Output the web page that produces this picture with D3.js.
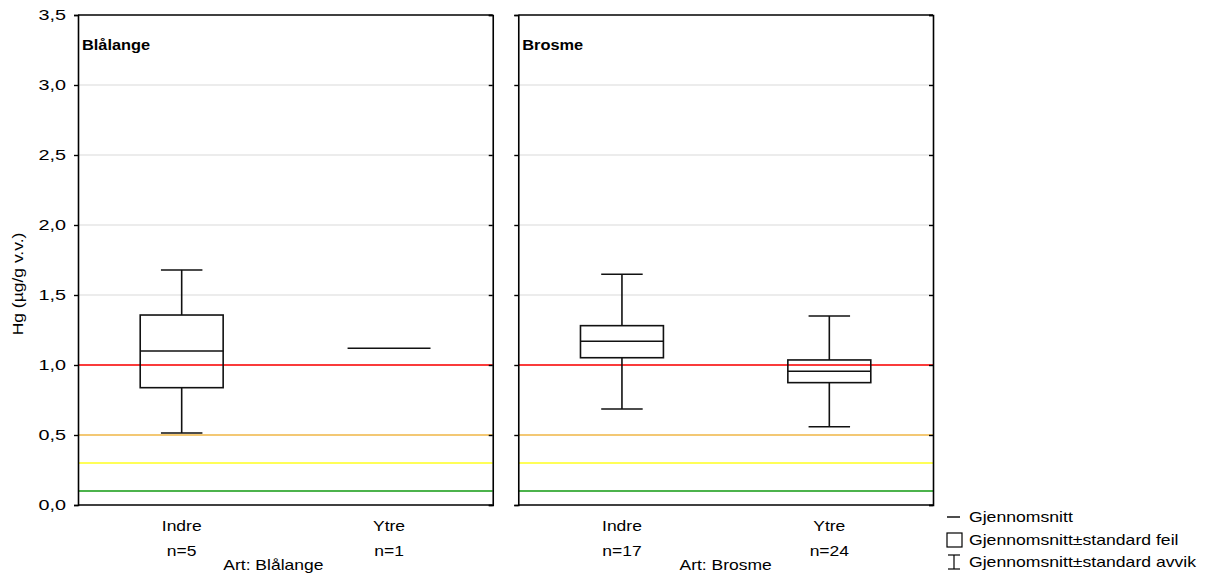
<!DOCTYPE html>
<html><head><meta charset="utf-8">
<script src="https://cdn.jsdelivr.net/npm/d3@7"></script>
<style>body{margin:0;background:#fff}svg{display:block}text{font-family:"Liberation Sans",Arial,sans-serif;fill:#000}</style>
</head><body><svg id="c" width="1206" height="576"></svg>
<script>
const species = ["Blålange", "Brosme"];
const categories = ["Indre", "Ytre"];
const meanVals = [[1.10, 1.12], [1.17, 0.955]];
const seLow = [[0.838, null], [1.052, 0.874]];
const seHigh = [[1.357, null], [1.281, 1.036]];
const sdLow = [[0.514, null], [0.686, 0.559]];
const sdHigh = [[1.679, null], [1.648, 1.35]];
const counts = [[5, 1], [17, 24]];
const yTicks = [0, 0.5, 1.0, 1.5, 2.0, 2.5, 3.0, 3.5];
const refLines = [1.0, 0.5, 0.3, 0.1];
const refColors = ["#ff0000", "#f6bd4c", "#ffff20", "#109a10"];
const legendLabels = ["Gjennomsnitt", "Gjennomsnitt±standard feil", "Gjennomsnitt±standard avvik"];
const yTitle = "Hg (µg/g v.v.)";

const svg = d3.select("#c");
const y = d3.scaleLinear().domain([0, 3.5]).range([505, 15]);
const panelX = d3.scaleBand().domain(species).range([78, 933]).paddingInner(0.058);
const fmt = d => d.toFixed(1).replace(".", ",");
const SX = 1.25;

function txt(g, x, yy, s, opts = {}) {
  const t = g.append("text")
    .attr("transform", `translate(${x},${yy}) ${opts.rot ? "rotate(-90)" : ""} scale(${opts.sx || SX},1)`)
    .attr("text-anchor", opts.anchor || "middle")
    .style("font-size", (opts.size || 14) + "px")
    .text(s);
  if (opts.bold) t.style("font-weight", "bold");
  return t;
}

species.forEach((sp, si) => {
  const x0 = panelX(sp), w = panelX.bandwidth();
  const g = svg.append("g");
  const xb = d3.scaleBand().domain(categories).range([x0, x0 + w]).paddingInner(0).paddingOuter(0);
  // gridlines
  g.selectAll(".grid").data(yTicks.slice(1, -1)).enter().append("line")
    .attr("x1", x0).attr("x2", x0 + w).attr("y1", d => y(d)).attr("y2", d => y(d))
    .attr("stroke", "#d9d9d9").attr("stroke-width", 1);
  // reference lines
  g.selectAll(".ref").data(refLines).enter().append("line")
    .attr("x1", x0).attr("x2", x0 + w).attr("y1", d => y(d)).attr("y2", d => y(d))
    .attr("stroke", (d, i) => refColors[i]).attr("stroke-width", 1.6);
  // left axis
  const left = d3.axisLeft(y).tickValues(yTicks).tickSize(4).tickFormat(si === 0 ? fmt : "");
  const la = g.append("g").attr("transform", `translate(${x0},0)`).call(left);
  la.select(".domain").attr("stroke-width", 1.6);
  la.selectAll(".tick line").attr("stroke-width", 1.4);
  la.selectAll(".tick text").remove();
  if (si === 0) {
    yTicks.forEach(v => txt(g, x0 - 12, y(v) + 5, fmt(v), {anchor: "end", size: 15, sx: 1.32}));
  }
  // right axis with inner ticks
  const right = d3.axisLeft(y).tickValues(yTicks).tickSize(4).tickFormat("");
  const ra = g.append("g").attr("transform", `translate(${x0 + w},0)`).call(right);
  ra.select(".domain").attr("stroke-width", 1.6);
  ra.selectAll(".tick line").attr("stroke-width", 1.4);
  // top and bottom borders
  g.append("line").attr("x1", x0).attr("x2", x0 + w).attr("y1", y(3.5)).attr("y2", y(3.5)).attr("stroke", "#000").attr("stroke-width", 1.6);
  g.append("line").attr("x1", x0).attr("x2", x0 + w).attr("y1", y(0)).attr("y2", y(0)).attr("stroke", "#000").attr("stroke-width", 1.6);
  // boxes
  categories.forEach((c, ci) => {
    const cx = xb(c) + xb.bandwidth() / 2;
    const bw = xb.bandwidth() * 0.4, cw = xb.bandwidth() * 0.2;
    const st = {stroke: "#111", "stroke-width": 1.6};
    if (sdLow[si][ci] !== null) {
      [[sdHigh[si][ci], seHigh[si][ci]], [seLow[si][ci], sdLow[si][ci]]].forEach(([a, b]) => {
        g.append("line").attr("x1", cx).attr("x2", cx).attr("y1", y(a)).attr("y2", y(b)).attr("stroke", st.stroke).attr("stroke-width", st["stroke-width"]);
      });
      [sdHigh[si][ci], sdLow[si][ci]].forEach(v => {
        g.append("line").attr("x1", cx - cw / 2).attr("x2", cx + cw / 2).attr("y1", y(v)).attr("y2", y(v)).attr("stroke", st.stroke).attr("stroke-width", st["stroke-width"]);
      });
      g.append("rect").attr("x", cx - bw / 2).attr("width", bw)
        .attr("y", y(seHigh[si][ci])).attr("height", y(seLow[si][ci]) - y(seHigh[si][ci]))
        .attr("fill", "none").attr("stroke", st.stroke).attr("stroke-width", st["stroke-width"]);
    }
    g.append("line").attr("x1", cx - bw / 2).attr("x2", cx + bw / 2)
      .attr("y1", y(meanVals[si][ci])).attr("y2", y(meanVals[si][ci]))
      .attr("stroke", st.stroke).attr("stroke-width", st["stroke-width"]);
    txt(g, cx, 531, c);
    txt(g, cx, 556, "n=" + counts[si][ci]);
  });
  txt(g, x0 + 4, 50, sp, {anchor: "start", bold: true, size: 14, sx: 1.17});
  txt(g, x0 + w / 2 - (si === 0 ? 12 : 0), 570, "Art: " + sp);
});
svg.selectAll(".domain, .tick line").attr("stroke", "#000");

// y axis title
txt(svg, 23, 284, yTitle, {rot: true, size: 14, sx: 1.25});

// legend
const lg = svg.append("g");
const lx = 947, ly = [517, 540, 562];
lg.append("line").attr("x1", lx).attr("x2", lx + 13).attr("y1", ly[0]).attr("y2", ly[0]).attr("stroke", "#000").attr("stroke-width", 1.4);
lg.append("rect").attr("x", lx).attr("y", ly[1] - 7).attr("width", 15).attr("height", 14).attr("fill", "none").attr("stroke", "#000").attr("stroke-width", 1.2);
lg.append("line").attr("x1", lx + 7).attr("x2", lx + 7).attr("y1", ly[2] - 7).attr("y2", ly[2] + 7).attr("stroke", "#000").attr("stroke-width", 1.2);
lg.append("line").attr("x1", lx + 1).attr("x2", lx + 13).attr("y1", ly[2] - 7).attr("y2", ly[2] - 7).attr("stroke", "#000").attr("stroke-width", 1.2);
lg.append("line").attr("x1", lx + 1).attr("x2", lx + 13).attr("y1", ly[2] + 7).attr("y2", ly[2] + 7).attr("stroke", "#000").attr("stroke-width", 1.2);
legendLabels.forEach((l, i) => txt(lg, 969, ly[i] + 5, l, {anchor: "start", size: 14, sx: 1.26}));
</script></body></html>
